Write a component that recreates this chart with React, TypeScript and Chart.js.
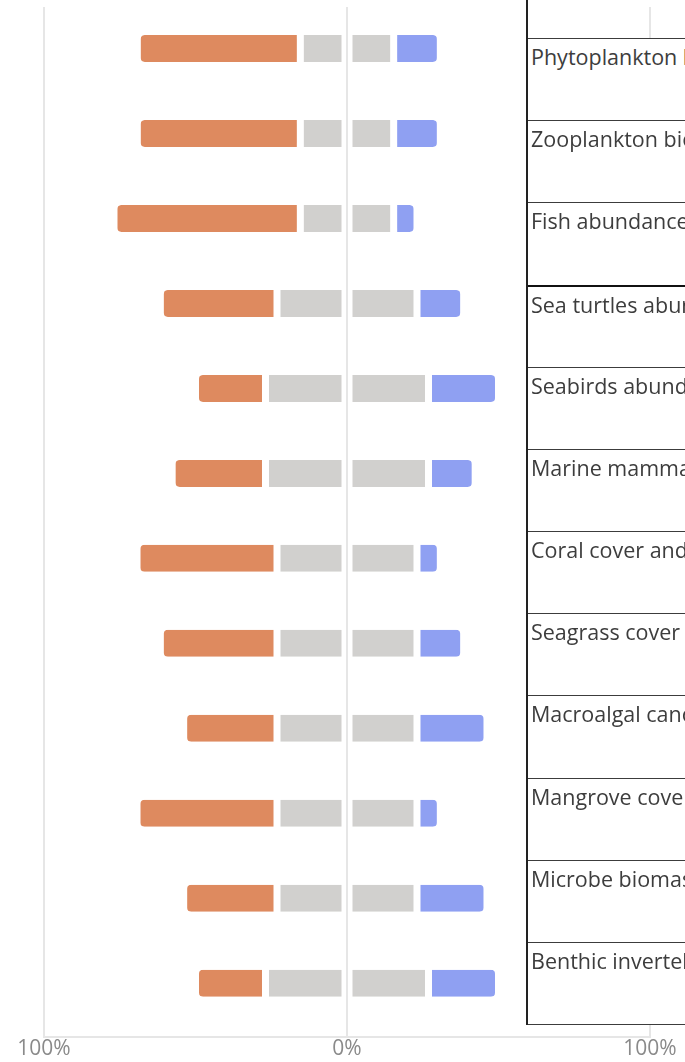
import React, { useEffect, useRef } from 'react';
import { Chart, registerables } from 'chart.js';

Chart.register(...registerables);

// Row names (shown in the table on the right, clipped by the window edge)
const categories = [
  'Phytoplankton biomass',
  'Zooplankton biomass',
  'Fish abundance',
  'Sea turtles abundance',
  'Seabirds abundance',
  'Marine mammals abundance',
  'Coral cover and condition',
  'Seagrass cover',
  'Macroalgal canopy cover',
  'Mangrove cover',
  'Microbe biomass',
  'Benthic invertebrate abundance',
];

// Share of answers (%)
const decreasePct = [53.8, 53.8, 61.5, 38.5, 23.1, 30.8, 46.2, 38.5, 30.8, 46.2, 30.8, 23.1];
const neutralPct = [30.8, 30.8, 30.8, 46.2, 53.8, 53.8, 46.2, 46.2, 46.2, 46.2, 46.2, 53.8];
const increasePct = [15.4, 15.4, 7.7, 15.4, 23.1, 15.4, 7.7, 15.4, 23.1, 7.7, 23.1, 23.1];

// Axis ticks
const axisTickValues = [-100, 0, 100];

const ORANGE = '#DE8A5F';
const GREY = '#D1D0CE';
const BLUE = '#8FA0F2';
const GRID = '#e6e6e6';
const CLEAR = 'rgba(0,0,0,0)';

export default function App() {
  const ref = useRef<HTMLCanvasElement>(null);

  useEffect(() => {
    const canvas = ref.current;
    if (!canvas) return;
    const idx = categories.map((_, i) => i);
    const common = {
      borderColor: CLEAR,
      borderSkipped: false,
      inflateAmount: 0,
      barThickness: 27,
    };
    const chart = new Chart(canvas, {
      type: 'bar',
      data: {
        datasets: [
          {
            label: 'No change',
            data: idx.map((i) => ({ x: -neutralPct[i] / 2, y: i })),
            backgroundColor: GREY,
            borderWidth: { left: 3.5, right: 4.5, top: 0, bottom: 0 },
            ...common,
          },
          {
            label: 'Decrease',
            data: idx.map((i) => ({ x: -decreasePct[i], y: i })),
            backgroundColor: ORANGE,
            borderWidth: { left: 3.5, right: 3.5, top: 0, bottom: 0 },
            borderRadius: { topLeft: 7.5, bottomLeft: 7.5, topRight: 0, bottomRight: 0 },
            ...common,
          },
          {
            label: 'No change ',
            data: idx.map((i) => ({ x: neutralPct[i] / 2, y: i })),
            backgroundColor: GREY,
            borderWidth: { left: 4.5, right: 3.5, top: 0, bottom: 0 },
            ...common,
          },
          {
            label: 'Increase',
            data: idx.map((i) => ({ x: increasePct[i], y: i })),
            backgroundColor: BLUE,
            borderWidth: { left: 3.5, right: 3.5, top: 0, bottom: 0 },
            borderRadius: { topLeft: 0, bottomLeft: 0, topRight: 7.5, bottomRight: 7.5 },
            ...common,
          },
        ] as any,
      },
      options: {
        indexAxis: 'y',
        animation: false,
        responsive: false,
        devicePixelRatio: 1,
        layout: { padding: { left: 44, right: 35, top: 7, bottom: 0 } },
        plugins: {
          legend: { display: false },
          tooltip: { enabled: false },
        },
        scales: {
          y: {
            type: 'linear',
            stacked: true,
            reverse: true,
            offset: false,
            min: -0.488,
            max: 11.63,
            display: false,
            grid: { offset: false },
          },
          x: {
            type: 'linear',
            stacked: true,
            min: axisTickValues[0],
            max: axisTickValues[axisTickValues.length - 1],
            afterBuildTicks: (scale: any) => {
              scale.ticks = axisTickValues.map((v) => ({ value: v }));
            },
            ticks: {
              padding: 0,
              color: '#8a8a8a',
              font: { family: '"Open Sans", sans-serif', size: 21 },
              callback: (v: any) => Math.abs(Number(v)) + '%',
              maxRotation: 0,
              autoSkip: false,
            },
            grid: { color: GRID, lineWidth: 2, drawTicks: false },
            border: { display: true, color: GRID, width: 2 },
          },
        },
      } as any,
    });
    return () => chart.destroy();
  }, []);

  const rowH = 82.17;

  return (
    <div
      style={{
        position: 'fixed',
        left: 0,
        top: 0,
        width: 685,
        height: 1062,
        overflow: 'hidden',
        background: '#fff',
      }}
    >
      <canvas
        ref={ref}
        width={685}
        height={1062}
        style={{ position: 'absolute', left: 0, top: 0, width: 685, height: 1062 }}
      />
      <div
        style={{
          position: 'absolute',
          left: 526,
          top: 0,
          width: 2,
          height: 1025,
          background: '#222',
        }}
      />
      {categories.map((c, i) => (
        <div
          key={c}
          style={{
            position: 'absolute',
            left: 528,
            top: 38 + i * rowH,
            width: 300,
            height: rowH + 1,
            boxSizing: 'border-box',
            background: '#fff',
            borderTop: i === 3 ? '2.5px solid #111' : '1.5px solid #3c3c3c',
            borderBottom: i === categories.length - 1 ? '1.5px solid #3c3c3c' : 'none',
            paddingLeft: 3,
            paddingTop: 5,
            fontFamily: '"Open Sans", sans-serif',
            fontSize: 21.5,
            lineHeight: 1.2,
            color: '#3d3d3d',
            whiteSpace: 'nowrap',
          }}
        >
          {c}
        </div>
      ))}
    </div>
  );
}
